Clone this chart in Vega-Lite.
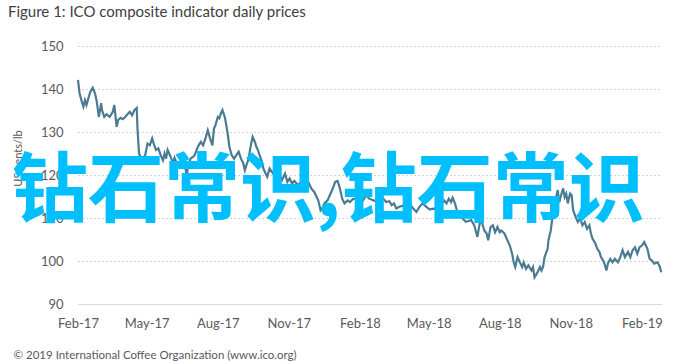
{
  "$schema": "https://vega.github.io/schema/vega-lite/v6.json",
  "width": 584,
  "height": 258,
  "autosize": {"type": "none"},
  "padding": {"left": 78, "top": 46, "right": 33, "bottom": 60},
  "background": "#ffffff",
  "config": {
    "view": {"stroke": null},
    "font": "Lato"
  },
  "title": {
    "text": "Figure 1: ICO composite indicator daily prices",
    "anchor": "start",
    "frame": "group",
    "dx": -70,
    "offset": 20,
    "font": "Lato",
    "fontSize": 15,
    "fontWeight": "normal",
    "color": "#404040"
  },
  "datasets": {
    "prices": [
      {"date": "2017-02-01", "price": 142.1}, {"date": "2017-02-03", "price": 139.0}, {"date": "2017-02-06", "price": 137.0},
      {"date": "2017-02-08", "price": 135.9}, {"date": "2017-02-10", "price": 137.4}, {"date": "2017-02-12", "price": 136.3},
      {"date": "2017-02-15", "price": 138.2}, {"date": "2017-02-17", "price": 139.4}, {"date": "2017-02-20", "price": 140.3},
      {"date": "2017-02-23", "price": 139.0}, {"date": "2017-02-25", "price": 137.4}, {"date": "2017-02-28", "price": 133.5},
      {"date": "2017-03-03", "price": 136.7}, {"date": "2017-03-04", "price": 135.1}, {"date": "2017-03-07", "price": 133.5},
      {"date": "2017-03-10", "price": 134.1}, {"date": "2017-03-14", "price": 133.5}, {"date": "2017-03-18", "price": 134.7},
      {"date": "2017-03-20", "price": 136.3}, {"date": "2017-03-23", "price": 131.2}, {"date": "2017-03-25", "price": 132.8},
      {"date": "2017-03-28", "price": 133.3}, {"date": "2017-03-31", "price": 133.0}, {"date": "2017-04-03", "price": 133.5},
      {"date": "2017-04-07", "price": 134.3}, {"date": "2017-04-09", "price": 134.7}, {"date": "2017-04-12", "price": 133.9},
      {"date": "2017-04-15", "price": 135.1}, {"date": "2017-04-18", "price": 135.6}, {"date": "2017-04-19", "price": 130.8},
      {"date": "2017-04-21", "price": 125.0}, {"date": "2017-04-23", "price": 124.2}, {"date": "2017-04-26", "price": 123.8},
      {"date": "2017-04-29", "price": 124.6}, {"date": "2017-05-02", "price": 127.3}, {"date": "2017-05-05", "price": 126.9},
      {"date": "2017-05-08", "price": 128.5}, {"date": "2017-05-10", "price": 127.3}, {"date": "2017-05-13", "price": 125.8},
      {"date": "2017-05-16", "price": 126.2}, {"date": "2017-05-19", "price": 124.6}, {"date": "2017-05-22", "price": 123.4},
      {"date": "2017-05-24", "price": 125.0}, {"date": "2017-05-26", "price": 123.8}, {"date": "2017-05-28", "price": 125.8},
      {"date": "2017-06-01", "price": 124.2}, {"date": "2017-06-04", "price": 122.7}, {"date": "2017-06-06", "price": 124.0},
      {"date": "2017-06-10", "price": 122.3}, {"date": "2017-06-14", "price": 123.2}, {"date": "2017-06-19", "price": 122.7},
      {"date": "2017-06-22", "price": 119.6}, {"date": "2017-06-23", "price": 121.9}, {"date": "2017-06-27", "price": 123.9},
      {"date": "2017-06-30", "price": 124.2}, {"date": "2017-07-02", "price": 124.6}, {"date": "2017-07-06", "price": 126.5},
      {"date": "2017-07-10", "price": 127.7}, {"date": "2017-07-13", "price": 126.9}, {"date": "2017-07-16", "price": 128.5},
      {"date": "2017-07-19", "price": 130.4}, {"date": "2017-07-22", "price": 128.5}, {"date": "2017-07-25", "price": 126.9},
      {"date": "2017-07-27", "price": 130.8}, {"date": "2017-07-29", "price": 131.6}, {"date": "2017-08-01", "price": 133.5},
      {"date": "2017-08-03", "price": 133.2}, {"date": "2017-08-05", "price": 134.3}, {"date": "2017-08-07", "price": 135.1},
      {"date": "2017-08-10", "price": 133.5}, {"date": "2017-08-12", "price": 131.6}, {"date": "2017-08-14", "price": 129.3},
      {"date": "2017-08-16", "price": 126.5}, {"date": "2017-08-19", "price": 124.6}, {"date": "2017-08-22", "price": 123.8},
      {"date": "2017-08-25", "price": 124.6}, {"date": "2017-08-28", "price": 125.4}, {"date": "2017-08-31", "price": 123.8},
      {"date": "2017-09-03", "price": 122.7}, {"date": "2017-09-05", "price": 121.1}, {"date": "2017-09-07", "price": 122.3},
      {"date": "2017-09-10", "price": 123.8}, {"date": "2017-09-12", "price": 126.2}, {"date": "2017-09-15", "price": 128.9},
      {"date": "2017-09-18", "price": 127.7}, {"date": "2017-09-20", "price": 126.5}, {"date": "2017-09-22", "price": 125.8},
      {"date": "2017-09-24", "price": 124.6}, {"date": "2017-09-27", "price": 123.1}, {"date": "2017-09-29", "price": 121.5},
      {"date": "2017-10-02", "price": 120.3}, {"date": "2017-10-04", "price": 119.6}, {"date": "2017-10-07", "price": 121.5},
      {"date": "2017-10-11", "price": 120.5}, {"date": "2017-10-16", "price": 119.2}, {"date": "2017-10-20", "price": 120.0},
      {"date": "2017-10-23", "price": 118.8}, {"date": "2017-10-27", "price": 120.3}, {"date": "2017-10-30", "price": 118.4},
      {"date": "2017-11-02", "price": 119.2}, {"date": "2017-11-05", "price": 118.0}, {"date": "2017-11-08", "price": 118.6},
      {"date": "2017-11-13", "price": 117.6}, {"date": "2017-11-19", "price": 118.8}, {"date": "2017-11-26", "price": 118.4},
      {"date": "2017-11-30", "price": 116.9}, {"date": "2017-12-04", "price": 116.0}, {"date": "2017-12-09", "price": 114.1},
      {"date": "2017-12-12", "price": 111.8}, {"date": "2017-12-15", "price": 112.5}, {"date": "2017-12-17", "price": 113.4},
      {"date": "2017-12-21", "price": 114.1}, {"date": "2017-12-24", "price": 115.3}, {"date": "2017-12-27", "price": 116.5},
      {"date": "2017-12-31", "price": 118.4}, {"date": "2018-01-03", "price": 118.6}, {"date": "2018-01-06", "price": 116.9},
      {"date": "2018-01-09", "price": 114.5}, {"date": "2018-01-12", "price": 113.4}, {"date": "2018-01-16", "price": 114.1},
      {"date": "2018-01-19", "price": 113.7}, {"date": "2018-01-23", "price": 114.4}, {"date": "2018-01-27", "price": 114.5},
      {"date": "2018-02-01", "price": 113.7}, {"date": "2018-02-05", "price": 114.1}, {"date": "2018-02-09", "price": 115.3},
      {"date": "2018-02-13", "price": 114.5}, {"date": "2018-02-20", "price": 114.0}, {"date": "2018-02-26", "price": 114.1},
      {"date": "2018-03-03", "price": 114.5}, {"date": "2018-03-07", "price": 113.7}, {"date": "2018-03-11", "price": 113.9},
      {"date": "2018-03-14", "price": 113.0}, {"date": "2018-03-17", "price": 113.4}, {"date": "2018-03-20", "price": 112.2},
      {"date": "2018-03-24", "price": 112.6}, {"date": "2018-03-31", "price": 113.0}, {"date": "2018-04-06", "price": 113.4},
      {"date": "2018-04-11", "price": 112.2}, {"date": "2018-04-15", "price": 111.4}, {"date": "2018-04-19", "price": 112.6},
      {"date": "2018-04-23", "price": 113.4}, {"date": "2018-04-28", "price": 112.6}, {"date": "2018-05-02", "price": 112.0},
      {"date": "2018-05-09", "price": 112.2}, {"date": "2018-05-13", "price": 111.4}, {"date": "2018-05-17", "price": 113.0},
      {"date": "2018-05-21", "price": 114.1}, {"date": "2018-05-24", "price": 113.4}, {"date": "2018-05-27", "price": 114.5},
      {"date": "2018-05-30", "price": 113.7}, {"date": "2018-06-01", "price": 114.7}, {"date": "2018-06-04", "price": 113.4},
      {"date": "2018-06-07", "price": 111.4}, {"date": "2018-06-12", "price": 110.2}, {"date": "2018-06-18", "price": 109.1},
      {"date": "2018-06-25", "price": 109.5}, {"date": "2018-06-29", "price": 108.3}, {"date": "2018-07-03", "price": 105.6},
      {"date": "2018-07-06", "price": 108.7}, {"date": "2018-07-08", "price": 109.5}, {"date": "2018-07-12", "price": 107.1},
      {"date": "2018-07-15", "price": 106.4}, {"date": "2018-07-17", "price": 104.8}, {"date": "2018-07-20", "price": 107.9},
      {"date": "2018-07-23", "price": 108.3}, {"date": "2018-07-26", "price": 106.7}, {"date": "2018-07-29", "price": 107.9},
      {"date": "2018-08-01", "price": 106.7}, {"date": "2018-08-03", "price": 107.1}, {"date": "2018-08-07", "price": 106.4},
      {"date": "2018-08-11", "price": 104.8}, {"date": "2018-08-14", "price": 103.6}, {"date": "2018-08-17", "price": 101.7},
      {"date": "2018-08-19", "price": 99.7}, {"date": "2018-08-21", "price": 98.6}, {"date": "2018-08-24", "price": 100.9},
      {"date": "2018-08-27", "price": 99.7}, {"date": "2018-08-30", "price": 98.6}, {"date": "2018-09-01", "price": 99.7},
      {"date": "2018-09-04", "price": 98.2}, {"date": "2018-09-07", "price": 99.0}, {"date": "2018-09-11", "price": 97.8},
      {"date": "2018-09-13", "price": 98.6}, {"date": "2018-09-15", "price": 96.2}, {"date": "2018-09-19", "price": 97.4},
      {"date": "2018-09-22", "price": 98.6}, {"date": "2018-09-24", "price": 97.8}, {"date": "2018-09-26", "price": 98.6},
      {"date": "2018-09-28", "price": 100.9}, {"date": "2018-10-02", "price": 102.9}, {"date": "2018-10-03", "price": 104.8},
      {"date": "2018-10-06", "price": 107.1}, {"date": "2018-10-08", "price": 109.9}, {"date": "2018-10-10", "price": 112.2},
      {"date": "2018-10-12", "price": 114.1}, {"date": "2018-10-15", "price": 116.5}, {"date": "2018-10-17", "price": 113.7},
      {"date": "2018-10-20", "price": 115.7}, {"date": "2018-10-22", "price": 116.9}, {"date": "2018-10-24", "price": 114.9},
      {"date": "2018-10-26", "price": 115.7}, {"date": "2018-10-28", "price": 113.4}, {"date": "2018-10-31", "price": 115.7},
      {"date": "2018-11-02", "price": 115.3}, {"date": "2018-11-04", "price": 111.8}, {"date": "2018-11-07", "price": 110.3},
      {"date": "2018-11-10", "price": 109.1}, {"date": "2018-11-13", "price": 109.9}, {"date": "2018-11-16", "price": 108.3},
      {"date": "2018-11-19", "price": 109.1}, {"date": "2018-11-22", "price": 107.5}, {"date": "2018-11-25", "price": 108.3},
      {"date": "2018-11-27", "price": 106.4}, {"date": "2018-11-29", "price": 105.2}, {"date": "2018-12-03", "price": 104.0},
      {"date": "2018-12-05", "price": 102.9}, {"date": "2018-12-08", "price": 102.1}, {"date": "2018-12-10", "price": 100.9},
      {"date": "2018-12-14", "price": 99.7}, {"date": "2018-12-17", "price": 97.8}, {"date": "2018-12-19", "price": 99.4},
      {"date": "2018-12-22", "price": 100.5}, {"date": "2018-12-25", "price": 99.7}, {"date": "2018-12-28", "price": 100.5},
      {"date": "2019-01-01", "price": 99.7}, {"date": "2019-01-04", "price": 100.9}, {"date": "2019-01-07", "price": 102.5},
      {"date": "2019-01-10", "price": 100.9}, {"date": "2019-01-14", "price": 102.1}, {"date": "2019-01-17", "price": 100.9},
      {"date": "2019-01-20", "price": 102.5}, {"date": "2019-01-23", "price": 103.2}, {"date": "2019-01-26", "price": 101.7},
      {"date": "2019-01-29", "price": 103.2}, {"date": "2019-02-01", "price": 103.6}, {"date": "2019-02-04", "price": 104.4},
      {"date": "2019-02-08", "price": 102.9}, {"date": "2019-02-11", "price": 100.5}, {"date": "2019-02-14", "price": 100.1},
      {"date": "2019-02-17", "price": 99.4}, {"date": "2019-02-21", "price": 99.7}, {"date": "2019-02-24", "price": 98.8},
      {"date": "2019-02-26", "price": 97.4}
    ],
    "watermark": [
      {"date": "2017-12-22", "price": 115.8, "label": "钻石常识,钻石常识"}
    ]
  },
  "layer": [
    {
      "data": {"name": "prices"},
      "mark": {"type": "line", "color": "#4b7b92", "strokeWidth": 2.2, "interpolate": "linear"},
      "encoding": {
        "x": {
          "field": "date",
          "type": "temporal",
          "scale": {
            "type": "utc",
            "domain": [
              {"year": 2017, "month": 2, "date": 1, "utc": true},
              {"year": 2019, "month": 2, "date": 27, "utc": true}
            ]
          },
          "axis": {
            "title": "© 2019 International Coffee Organization (www.ico.org)",
            "titleX": -65,
            "titleY": 54,
            "titleAlign": "left",
            "titleAnchor": "start",
            "titleBaseline": "alphabetic",
            "titleFont": "Lato",
            "titleFontSize": 11.5,
            "titleFontWeight": "normal",
            "titleColor": "#595959",
            "values": [
              {"year": 2017, "month": 2, "date": 1, "utc": true},
              {"year": 2017, "month": 5, "date": 1, "utc": true},
              {"year": 2017, "month": 8, "date": 1, "utc": true},
              {"year": 2017, "month": 11, "date": 1, "utc": true},
              {"year": 2018, "month": 2, "date": 1, "utc": true},
              {"year": 2018, "month": 5, "date": 1, "utc": true},
              {"year": 2018, "month": 8, "date": 1, "utc": true},
              {"year": 2018, "month": 11, "date": 1, "utc": true},
              {"year": 2019, "month": 2, "date": 1, "utc": true}
            ],
            "labelExpr": "utcFormat(datum.value, '%b-%y')",
            "grid": false,
            "ticks": false,
            "domainColor": "#d9d9d9",
            "domainWidth": 1,
            "labelFont": "Lato",
            "labelFontSize": 13,
            "labelColor": "#595959",
            "labelPadding": 13,
            "labelFlush": false,
            "labelOverlap": false
          }
        },
        "y": {
          "field": "price",
          "type": "quantitative",
          "scale": {"domain": [90, 150], "nice": false, "zero": false},
          "axis": {
            "title": "US cents/lb",
            "titleX": -57,
            "titleY": 112,
            "titleAngle": -90,
            "titleAlign": "center",
            "titleBaseline": "alphabetic",
            "titleFont": "Lato",
            "titleFontSize": 11,
            "titleFontWeight": "normal",
            "titleColor": "#595959",
            "values": [90, 100, 110, 120, 130, 140, 150],
            "domain": false,
            "ticks": false,
            "grid": true,
            "gridColor": "#c8c8c8",
            "gridDash": [1.5, 2.5],
            "gridWidth": 1,
            "labelFont": "Lato",
            "labelFontSize": 13,
            "labelColor": "#595959",
            "labelPadding": 15
          }
        }
      }
    },
    {
      "data": {"name": "watermark"},
      "mark": {
        "type": "text",
        "font": "Noto Sans CJK SC",
        "fontSize": 76,
        "fontWeight": "bold",
        "color": "#00bfff",
        "align": "center",
        "baseline": "middle",
        "clip": false
      },
      "encoding": {
        "x": {"field": "date", "type": "temporal"},
        "y": {"field": "price", "type": "quantitative"},
        "text": {"field": "label"}
      }
    }
  ]
}
